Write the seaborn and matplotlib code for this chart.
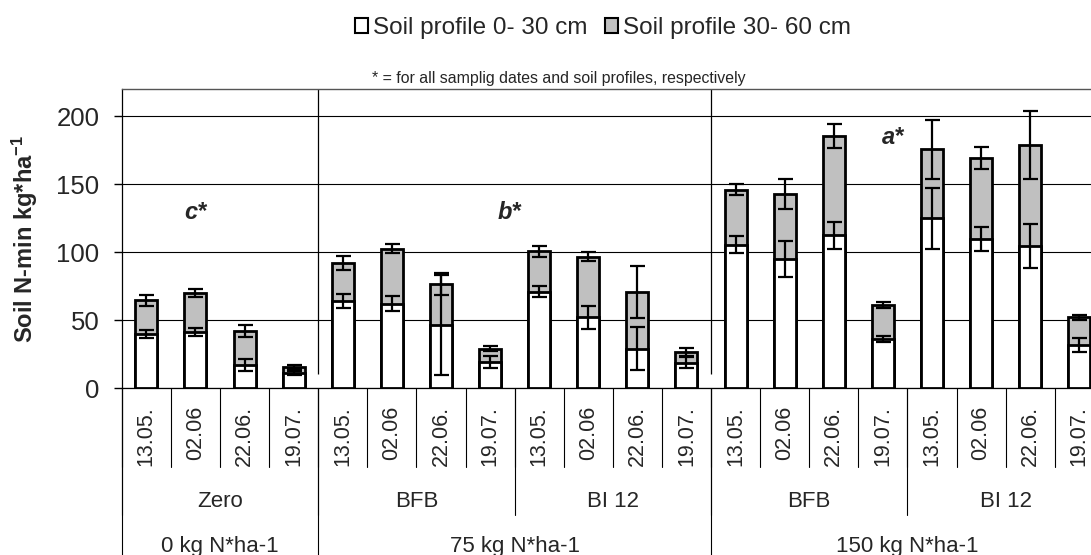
import numpy as np
import pandas as pd
import matplotlib
matplotlib.use("Agg")
import matplotlib.pyplot as plt
from matplotlib.patches import Patch
import seaborn as sns

# ---------------- data ----------------
dates = ["13.05.", "02.06", "22.06.", "19.07."] * 5
treatments = ["Zero", "BFB", "BI 12", "BFB", "BI 12"]
n_levels = ["0 kg N*ha-1", "75 kg N*ha-1", "150 kg N*ha-1"]
n_level_spans = [1, 2, 2]  # number of treatment groups per N level

profile_0_30 = [40, 41, 17, 11,
                64, 62, 46.5, 19,
                71, 52, 29, 18.5,
                105.5, 95, 112.5, 36,
                125, 109.5, 104.5, 31.5]
err_0_30 = [3, 3, 4.5, 1.5,
            5, 5.5, 37, 4.3,
            4, 8.5, 16, 4,
            6.5, 13, 10, 2.5,
            22.5, 9, 16.5, 5]
profile_30_60 = [24.5, 29, 25, 4.5,
                 28, 40.5, 30, 10,
                 29.5, 44.5, 41.5, 8,
                 40.5, 47.5, 73, 25,
                 50.5, 59.5, 74.5, 20.5]
err_total = [4, 3.2, 4.5, 1.5,
             5, 3.5, 8, 2,
             4, 3.3, 19, 2.8,
             4, 11, 9, 2,
             22, 8, 25, 2]

sig_labels = ["c*", "b*", "a*"]
sig_x = [1.0, 7.4, 15.2]
sig_y = [129, 129, 184]

yticks = [0, 50, 100, 150, 200]

# ---------------- style ----------------
sns.set_theme(style="white")
plt.rcParams["font.family"] = ["Liberation Sans", "DejaVu Sans"]
plt.rcParams["mathtext.fontset"] = "custom"
plt.rcParams["mathtext.rm"] = "Liberation Sans"
plt.rcParams["mathtext.bf"] = "Liberation Sans:bold"
plt.rcParams["mathtext.it"] = "Liberation Sans:italic"

ids = [f"c{i:02d}" for i in range(len(dates))]
total = [a + b for a, b in zip(profile_0_30, profile_30_60)]
df = pd.DataFrame({"id": ids, "date": dates, "p030": profile_0_30,
                   "total": total})

W, H = 1091, 555
fig = plt.figure(figsize=(W / 100, H / 100), dpi=100)
ax = fig.add_axes([121.8 / W, (H - 388) / H, 982 / W, 299 / H])

bar_kw = dict(edgecolor="black", linewidth=2, width=0.45, saturation=1,
              errorbar=None, order=ids, ax=ax)
sns.barplot(data=df, x="id", y="total", color="#C0C0C0", zorder=2, **bar_kw)
sns.barplot(data=df, x="id", y="p030", color="white", zorder=3, **bar_kw)

xpos = np.arange(len(ids))
eb_kw = dict(fmt="none", ecolor="black", elinewidth=1.6, capsize=5.4,
             capthick=1.6, zorder=5)
ax.errorbar(xpos, df["p030"], yerr=err_0_30, **eb_kw)
ax.errorbar(xpos, df["total"], yerr=err_total, **eb_kw)

ax.set_xlim(-0.5, len(ids) - 0.5)
ax.set_ylim(0, 220)
ax.set_yticks(yticks)
ax.set_yticklabels([str(v) for v in yticks], fontsize=18.5)
ax.tick_params(axis="y", direction="out", length=6, width=1, color="black",
               pad=10, left=True)
ax.set_axisbelow(True)
ax.yaxis.grid(True, color="black", linewidth=0.8)
ax.xaxis.grid(False)
for s in ["left", "bottom"]:
    ax.spines[s].set_color("black")
    ax.spines[s].set_linewidth(0.9)
ax.spines["top"].set_color("#555555")
ax.spines["top"].set_linewidth(1.0)
ax.spines["right"].set_visible(False)

ax.set_xticks(xpos)
ax.set_xticklabels(dates, rotation=90, fontsize=15.5)
ax.tick_params(axis="x", length=0, pad=13)
ax.set_xlabel("")
ax.set_ylabel(r"Soil N-min kg*ha$^{\mathbf{-1}}$", fontsize=17,
              fontweight="bold")
ax.yaxis.set_label_coords(-0.083, 0.5)

# separators in the data area between N levels
ax.vlines([3.5, 11.5], 10, 220, color="black", linewidth=0.9, zorder=1)

# multi-level category axis
tr = ax.get_xaxis_transform()
line_kw = dict(color="black", linewidth=0.8, transform=tr, clip_on=False)
for k in range(len(ids) + 1):
    ax.plot([k - 0.5, k - 0.5], [0, -0.264], **line_kw)
for g in range(len(treatments) + 1):
    ax.plot([4 * g - 0.5, 4 * g - 0.5], [0, -0.425], **line_kw)
for g, t in enumerate(treatments):
    ax.text(4 * g + 1.5, -0.398, t, transform=tr, ha="center",
            va="baseline", fontsize=16)
start = 0
edges = [0]
for lab, span in zip(n_levels, n_level_spans):
    ncat = span * 4
    ax.text(start + ncat / 2 - 0.5, -0.548, lab, transform=tr, ha="center",
            va="baseline", fontsize=16)
    start += ncat
    edges.append(start)
for e in edges:
    ax.plot([e - 0.5, e - 0.5], [0, -0.6], **line_kw)

# significance letters
for lab, x, y in zip(sig_labels, sig_x, sig_y):
    ax.text(x, y, lab, ha="center", va="center", fontsize=17,
            fontweight="bold", fontstyle="italic", zorder=6)

# note and legend
fig.text(559 / W, 1 - 78 / H,
         "* = for all samplig dates and soil profiles, respectively",
         ha="center", va="center", fontsize=11.4)
handles = [Patch(facecolor="white", edgecolor="black", linewidth=1.5,
                 label="Soil profile 0- 30 cm"),
           Patch(facecolor="#C0C0C0", edgecolor="black", linewidth=1.5,
                 label="Soil profile 30- 60 cm")]
fig.legend(handles=handles, loc="center", bbox_to_anchor=(603 / W, 1 - 28 / H),
           ncol=2, frameon=False, fontsize=17.5, handlelength=0.55,
           handleheight=0.55, handletextpad=0.2, columnspacing=0.7,
           borderpad=0, borderaxespad=0)

fig.savefig("out.png", dpi=100)
